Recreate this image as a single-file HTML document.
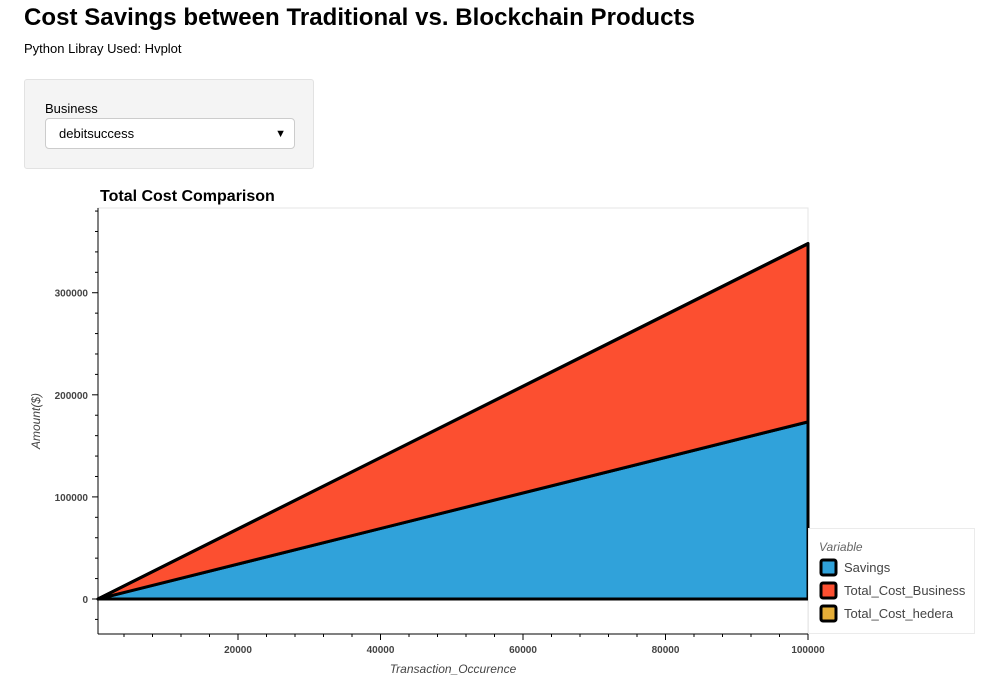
<!DOCTYPE html>
<html><head><meta charset="utf-8"><style>
body{margin:0;width:992px;height:688px;background:#fff;font-family:"Liberation Sans",sans-serif;position:relative;overflow:hidden}
h1{position:absolute;left:24px;top:4px;margin:0;font-size:24px;font-weight:bold;color:#000;letter-spacing:0.05px}
.sub{position:absolute;left:24px;top:41px;font-size:13px}
.panel{position:absolute;left:24px;top:79px;width:288px;height:88px;background:#f4f4f4;border:1px solid #e2e2e2;border-radius:3px}
.lbl{position:absolute;left:20px;top:21px;font-size:13px}
.sel{position:absolute;left:20px;top:38px;width:250px;height:31px;background:#fff;border:1px solid #ccc;border-radius:4px;font-size:13px;line-height:30px;box-sizing:border-box;padding-left:13px}
.sel span{position:absolute;right:8px;top:0;font-size:11px}
svg{position:absolute;left:0;top:0}
</style></head><body>
<h1>Cost Savings between Traditional vs. Blockchain Products</h1>
<div class="sub">Python Libray Used: Hvplot</div>
<div class="panel">
<div class="lbl">Business</div>
<div class="sel">debitsuccess<span>▼</span></div>
</div>
<svg id="chart" width="992" height="688"></svg>
<script>
const xs=[350,100000];
const savings=[0,173500];
const business=[0,174500];
const hedera=[0,300];
const yTicks=[0,100000,200000,300000];
const xTicks=[20000,40000,60000,80000,100000];
const legendLabels=["Savings","Total_Cost_Business","Total_Cost_hedera"];
const colors=["#30a2da","#fc4f30","#e5ae38"];
const L=98,R=808,T=208,B=634;
const xmin=350,xmax=100000,ymin=-34300,ymax=383000;
const X=v=>L+(v-xmin)/(xmax-xmin)*(R-L);
const Y=v=>B-(v-ymin)/(ymax-ymin)*(B-T);
const svg=document.getElementById('chart');
const NS='http://www.w3.org/2000/svg';
function mk(t,a,p){const e=document.createElementNS(NS,t);for(const k in a)e.setAttribute(k,a[k]);(p||svg).appendChild(e);return e;}
let e=mk('rect',{x:L,y:T,width:R-L,height:B-T,fill:'#fff',stroke:'#e5e5e5'});

e=mk('text',{x:100,y:201,'font-size':16,'font-weight':'bold'});e.textContent='Total Cost Comparison';

const series=[savings,business,hedera];
let base=xs.map(()=>0);
const names=['area-savings','area-business','area-hedera'];
series.forEach((s,i)=>{
 const top=s.map((v,j)=>base[j]+v);
 let d='M'+xs.map((x,j)=>X(x)+','+Y(top[j])).join('L');
 for(let j=xs.length-1;j>=0;j--)d+='L'+X(xs[j])+','+Y(base[j]);
 d+='Z';
 const p=mk('path',{d:d,fill:colors[i],stroke:'#000','stroke-width':3,'stroke-linejoin':'round'});
 
 base=top;
});
mk('line',{x1:L,y1:T,x2:L,y2:B,stroke:'#000'});
mk('line',{x1:L,y1:B,x2:R,y2:B,stroke:'#000'});
for(let v=-20000;v<=380000;v+=20000){mk('line',{x1:L-(v%100000===0?6:3),x2:L,y1:Y(v),y2:Y(v),stroke:'#000'});}
yTicks.forEach(v=>{const t=mk('text',{x:L-10,y:Y(v)+4,'font-size':10,'font-weight':'bold','fill':'#444','text-anchor':'end'});t.textContent=v;
});
for(let v=4000;v<=100000;v+=4000){mk('line',{x1:X(v),x2:X(v),y1:B,y2:B+(v%20000===0?6:3),stroke:'#000'});}
xTicks.forEach(v=>{const t=mk('text',{x:X(v),y:B+19,'font-size':10,'font-weight':'bold','fill':'#444','text-anchor':'middle'});t.textContent=v;
});
e=mk('text',{x:453,y:673,'font-size':12,'font-style':'italic',fill:'#444','text-anchor':'middle'});e.textContent='Transaction_Occurence';

e=mk('text',{x:40,y:421,'font-size':12,'font-style':'italic',fill:'#444','text-anchor':'middle',transform:'rotate(-90 40 421)'});e.textContent='Amount($)';

const lg=mk('g',{});
mk('rect',{x:808.5,y:528.5,width:166,height:105,fill:'#fff',stroke:'#ebebeb'},lg);
e=mk('text',{x:819,y:551,'font-size':12,'font-style':'italic',fill:'#666'},lg);e.textContent='Variable';
legendLabels.forEach((n,i)=>{
 const g=mk('g',{},lg);
 mk('rect',{x:821,y:560+i*23,width:15,height:15,fill:colors[i],stroke:'#000','stroke-width':3,rx:2},g);
 const t=mk('text',{x:844,y:572+i*23,'font-size':13,fill:'#444'},g);t.textContent=n;
});
</script>
</body></html>
